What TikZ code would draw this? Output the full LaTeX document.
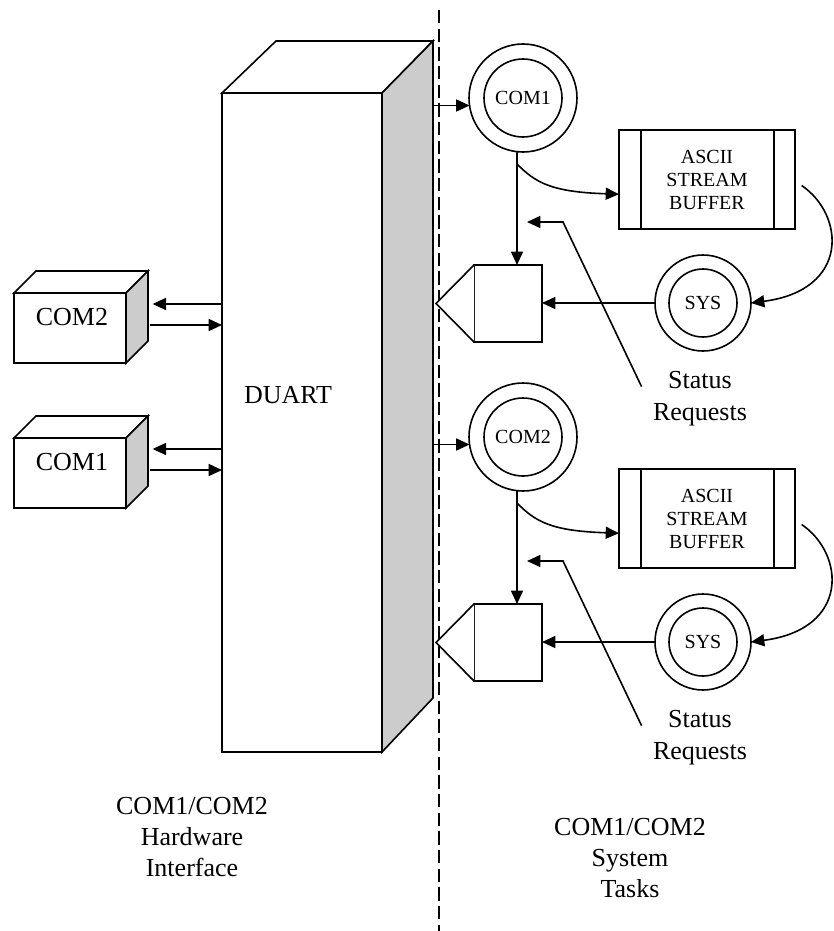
\documentclass[tikz,border=0pt]{standalone}
\usepackage{fontspec}
\setmainfont{Liberation Serif}
\usetikzlibrary{arrows.meta}

\tikzset{every picture/.style={line width=1.2pt},
  face/.style={draw, fill=white, inner sep=0pt, outer sep=0pt},
  sideface/.style={draw, fill=black!20},
  ring/.style={draw, circle, inner sep=0pt, outer sep=0pt},
  arr/.style={-{Triangle[length=10pt,width=9pt]}},
  divider/.style={line width=1pt, dash pattern={on 10pt off 4pt}},
  bigtxt/.style={font=\fontsize{19.5}{23}\selectfont, align=center, inner sep=0pt},
  smalltxt/.style={font=\fontsize{15}{17.25}\selectfont, align=center, inner sep=0pt}}

\begin{document}
\begin{tikzpicture}[x=0.75pt,y=0.75pt,yscale=-1,xscale=1]
\useasboundingbox (0,0) rectangle (833,931);

%Shape: DUART block
\node[face, minimum width=120pt, minimum height=494.25pt] (duart) at (302,422.5) {};
\draw[face] (duart.north west) -- ++(54,-52) -- ++(157,0) -- (duart.north east) -- cycle;
\draw[sideface] (duart.north east) -- ++(51,-52) coordinate (duartback) -- ++(0,657) -- (duart.south east) -- cycle;
% Text Node
\node[bigtxt] (duartlbl) at (288,395) {DUART};

%Straight Lines: divider
\coordinate (divtop) at (439,10);
\coordinate (divbot) at (439,931);
\draw[divider] (divtop) -- (divbot);

%Shape: serial port boxes
\foreach \nm/\yc in {COM2/328,COM1/473}{
  \node[face, minimum width=84pt, minimum height=52.5pt] (hw\nm) at (70,\yc) {};
  \draw[face] (hw\nm.north west) -- ++(22,-22) -- ++(112,0) -- (hw\nm.north east) -- cycle;
  \draw[sideface] (hw\nm.north east) -- ++(22,-22) -- ++(0,70) -- (hw\nm.south east) -- cycle;
  % Text Node
  \node[bigtxt] (hwlbl\nm) at ([xshift=1.5pt,yshift=-8pt]hw\nm.center) {\nm};
  \coordinate (in\nm) at ([xshift=20pt,yshift=-18pt]hw\nm.east);
  \coordinate (out\nm) at ([xshift=18pt,yshift=-2.25pt]hw\nm.east);
  \draw[arr] (duart.west |- in\nm) -- (in\nm);
  \draw[arr] (out\nm) -- (duart.west |- out\nm);
}

%Shape: system task groups
\foreach \nm/\dy in {COM1/0,COM2/339}{
  \node[ring, minimum size=81pt] (task\nm) at (523,{98+\dy}) {};
  \node[ring, minimum size=58.5pt, smalltxt] (tasklbl\nm) at (task\nm) {\nm};
  \draw[arr] (duartback |- task\nm.188) -- (task\nm.188);
  % mux with cone
  \node[face, minimum width=51pt, minimum height=57.75pt] (mux\nm) at (508,{303.5+\dy}) {};
  \draw[face] (mux\nm.north west) -- ([xshift=-28.5pt]mux\nm.west) -- (mux\nm.south west);
  \coordinate (drop\nm) at ([xshift=-4.5pt]task\nm.south);
  \draw[arr] (drop\nm) -- (drop\nm |- mux\nm.north);
  % buffer
  \node[face, minimum width=132pt, minimum height=74.25pt, smalltxt] (buf\nm) at (707,{179.5+\dy}) {ASCII\\STREAM\\BUFFER};
  \draw ([xshift=16.5pt]buf\nm.north west) -- ([xshift=16.5pt]buf\nm.south west);
  \draw ([xshift=-15.75pt]buf\nm.north east) -- ([xshift=-15.75pt]buf\nm.south east);
  \coordinate (tap\nm) at ([yshift=9pt]drop\nm);
  \draw[arr] (tap\nm) .. controls (535,{182+\dy}) and (550,{192+\dy}) .. ([yshift=11pt]buf\nm.west);
  % sys task
  \node[ring, minimum size=72pt] (sys\nm) at (703,{303+\dy}) {};
  \node[ring, minimum size=51pt, smalltxt] (syslbl\nm) at (sys\nm) {SYS};
  \coordinate (bufout\nm) at ([xshift=5pt,yshift=4.5pt]buf\nm.east);
  \draw[arr] (bufout\nm) .. controls (845,{215+\dy}) and (850,{290+\dy}) .. (sys\nm.east);
  \draw[arr] (sys\nm.west) -- (sys\nm.west -| mux\nm.east);
  % Text Node
  \node[bigtxt, text depth=0pt] (req\nm) at (700,{396+\dy}) {Status\\[1pt]Requests};
  \coordinate (reqfoot\nm) at ([xshift=-8pt,yshift=-7pt]req\nm.west);
  \draw[arr] (reqfoot\nm) -- (563,{222+\dy}) -- (527,{222+\dy});
}

% Text Node
\node[bigtxt] (hwcap) at (192,837) {COM1/COM2\\Hardware\\Interface};
% Text Node
\node[bigtxt] (taskcap) at (630,858) {COM1/COM2\\System\\Tasks};

\end{tikzpicture}
\end{document}
